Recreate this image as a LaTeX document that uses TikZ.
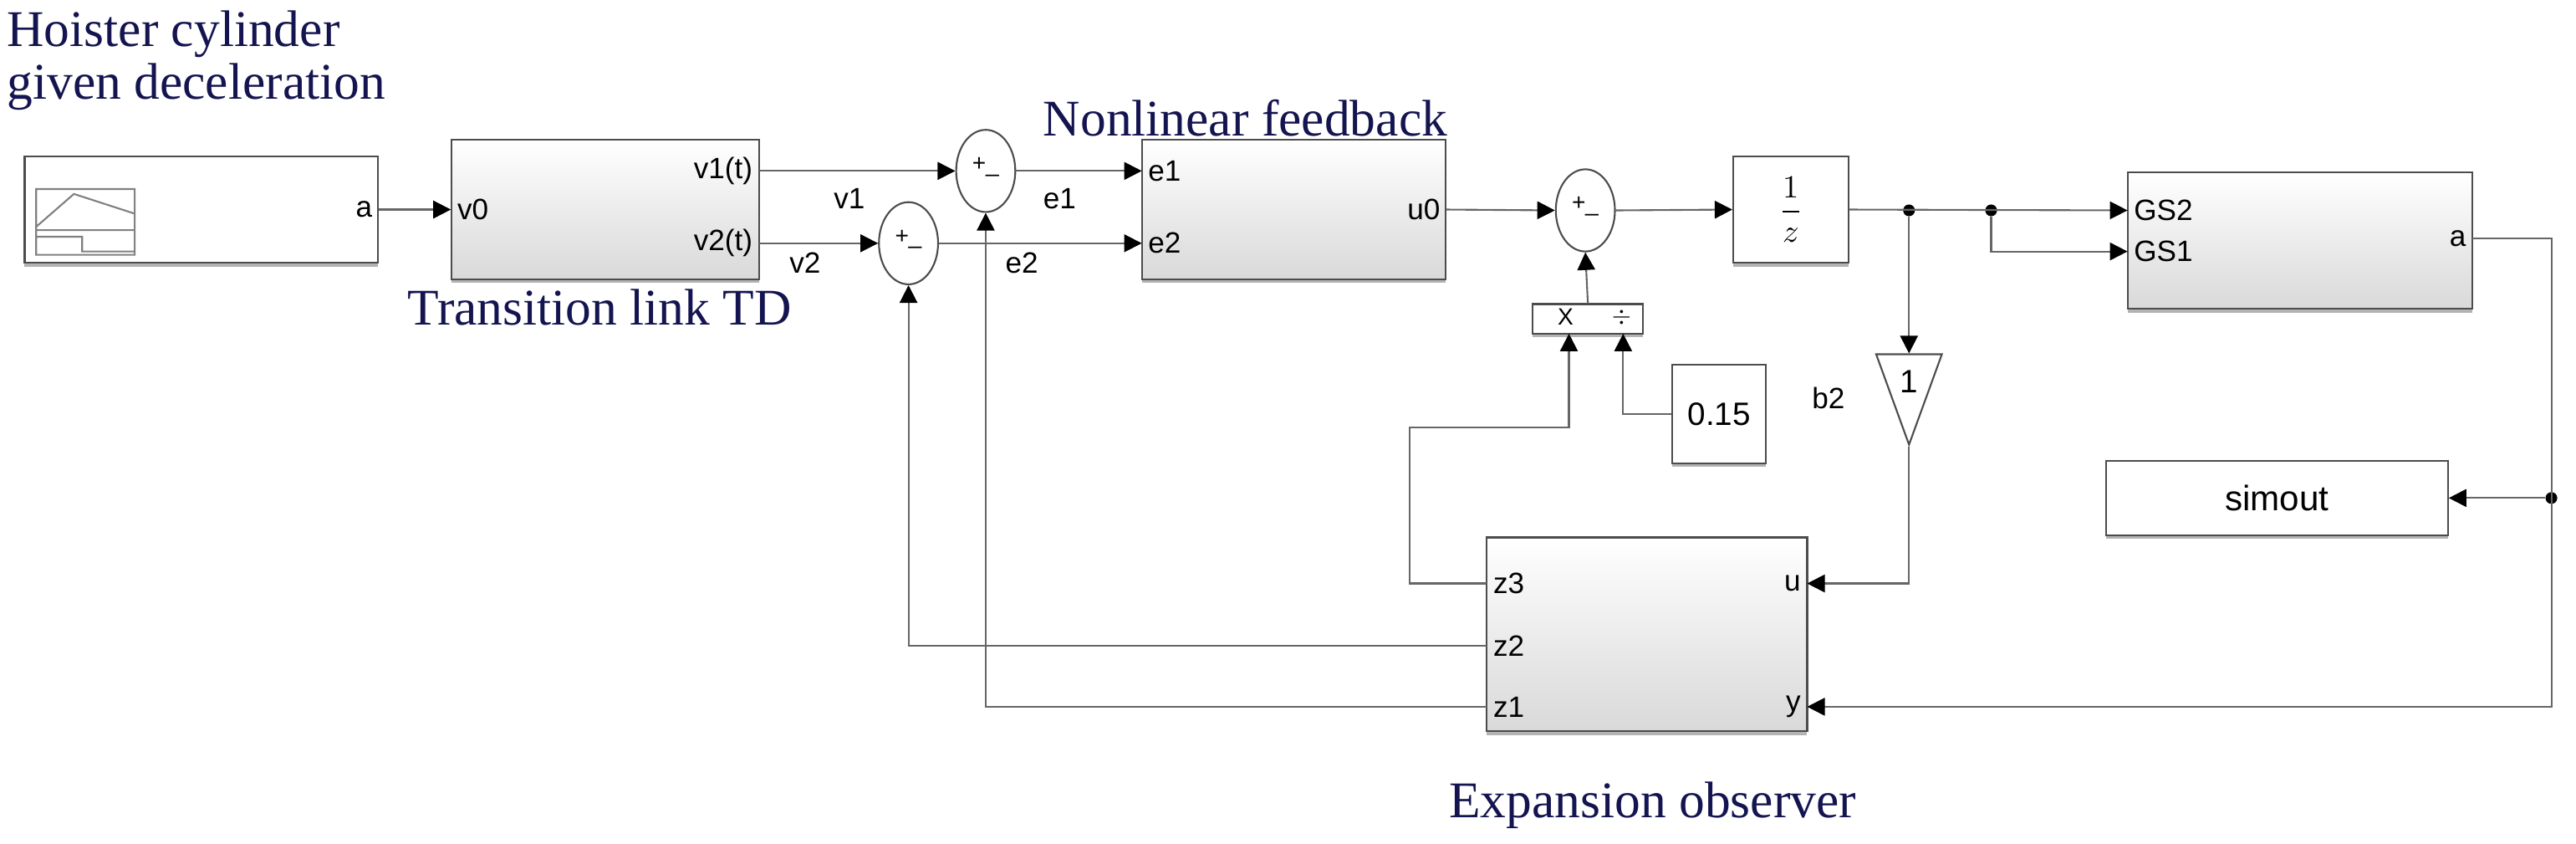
\documentclass[tikz,border=0pt]{standalone}
\usepackage{fontspec}
\setmainfont{Liberation Serif}
\newfontfamily\lab{Liberation Sans}
\usetikzlibrary{arrows.meta,shapes.geometric,shadows}
\def\u{0.01965cm}
\definecolor{navy}{RGB}{20,20,80}
\tikzset{
 blk/.style={draw=black!70,line width=0.6pt,top color=white,bottom color=black!15,inner sep=0pt,drop shadow={shadow xshift=0pt,shadow yshift=-1.2pt,opacity=0.6}},
 wblk/.style={draw=black!70,line width=0.6pt,fill=white,inner sep=0pt,drop shadow={shadow xshift=0pt,shadow yshift=-1.2pt,opacity=0.6}},
 sum/.style={ellipse,draw=black!70,line width=0.6pt,fill=white,minimum width=36*\u,minimum height=50*\u,inner sep=0pt},
 port/.style={font=\lab\fontsize{10}{11}\selectfont,inner sep=2pt},
 wl/.style={font=\lab\fontsize{10}{11}\selectfont,inner sep=1pt},
 title/.style={font=\fontsize{17.5}{19}\selectfont,text=navy,align=left,inner sep=0pt},
 sig/.style={draw=black!60,line width=0.6pt,-{Triangle[length=6pt,width=6pt,color=black]}},
 dot/.style={circle,fill=black,inner sep=0pt,minimum size=4pt}
}
\begin{document}
\begin{tikzpicture}[x=\u,y=-\u]
\useasboundingbox (0,0) rectangle (1568,513);
% titles
\node[title,anchor=north west] (t1) at (4,6) {Hoister cylinder\\[-1pt]given deceleration};
\node[title] (t2) at (365,187) {Transition link TD};
\node[title] (t3) at (758,72) {Nonlinear feedback};
\node[title] (t4) at (1006,490) {Expansion observer};
% blocks
\node[wblk,minimum width=215*\u,minimum height=65*\u] (sb) at (122.5,127.5) {};
\draw[black!50,line width=0.6pt] (22,115) rectangle (82,155) (22,140)--(82,140) (22,138)--(45,118)--(82,130) (22,144)--(50,144)--(50,153)--(82,153);
\node[port,anchor=east] (sba) at (sb.east) {a};
\node[blk,minimum width=187*\u,minimum height=85*\u] (td) at (368.5,127.5) {};
\node[port,anchor=west] at (td.west) {v0};
\coordinate (tdv1) at (462,104); \coordinate (tdv2) at (462,148);
\node[port,anchor=east] at (tdv1) {v1(t)};
\node[port,anchor=east] at (tdv2) {v2(t)};
\node[sum] (s1) at (600,104) {}; \node[font=\lab\footnotesize] at (596,100) {+}; \node[font=\lab\footnotesize] at (604,106) {\_};
\node[sum] (s2) at (553,148) {}; \node[font=\lab\footnotesize] at (549,144) {+}; \node[font=\lab\footnotesize] at (557,150) {\_};
\node[blk,minimum width=185*\u,minimum height=85*\u] (nf) at (787.5,127.5) {};
\coordinate (nfe1) at (695,104); \coordinate (nfe2) at (695,148);
\node[port,anchor=west] at (nfe1) {e1};
\node[port,anchor=west] at (nfe2) {e2};
\node[port,anchor=east] at (nf.east) {u0};
\node[sum] (s3) at (965,128) {}; \node[font=\lab\footnotesize] at (961,124) {+}; \node[font=\lab\footnotesize] at (969,130) {\_};
\node[wblk,minimum width=67*\u,minimum height=18*\u] (pr) at (966.5,194) {};
\node[font=\lab\footnotesize] at (953,193) {X}; \node[font=\lab\footnotesize] at (987,193) {$\div$};
\coordinate (prx) at (955,203); \coordinate (prd) at (988,203);
\node[wblk,minimum width=57*\u,minimum height=60*\u,font=\lab\fontsize{11}{12}\selectfont] (c) at (1046.5,252) {0.15};
\node[wblk,minimum width=70*\u,minimum height=65*\u,font=\lab\fontsize{11}{12}\selectfont] (z) at (1090,127.5) {$\displaystyle\frac{1}{z}$};
\node[isosceles triangle,shape border rotate=-90,isosceles triangle stretches,draw=black!70,line width=0.6pt,fill=white,inner sep=0pt,minimum height=55*\u,minimum width=40*\u,anchor=north] (g) at (1162,215) {};
\node[font=\lab\fontsize{11}{12}\selectfont] at (1162,232) {1};
\node[wl] at (1113,242) {b2};
\node[blk,minimum width=210*\u,minimum height=83*\u] (pl) at (1400,146.5) {};
\coordinate (gs2) at (1295,128); \coordinate (gs1) at (1295,153); \coordinate (pla) at (1505,145);
\node[port,anchor=west] at (gs2) {GS2};
\node[port,anchor=west] at (gs1) {GS1};
\node[port,anchor=east] at (pla) {a};
\node[wblk,minimum width=208*\u,minimum height=45*\u,font=\lab\fontsize{12}{13}\selectfont] (so) at (1386,303) {simout};
\node[blk,minimum width=195*\u,minimum height=118*\u] (ob) at (1002.5,386) {};
\coordinate (z3) at (905,355); \coordinate (z2) at (905,393); \coordinate (z1) at (905,430);
\coordinate (ou) at (1100,355); \coordinate (oy) at (1100,430);
\node[port,anchor=west] at (z3) {z3};
\node[port,anchor=west] at (z2) {z2};
\node[port,anchor=west] at (z1) {z1};
\node[port,anchor=east] at (ou) {u};
\node[port,anchor=east] at (oy) {y};
% wires
\draw[sig] (sba.east) -- (td.west);
\draw[sig] (tdv1) -- (s1.west);
\draw[sig] (tdv2) -- (s2.west);
\node[wl] at (517,121) {v1}; \node[wl] at (490,160) {v2};
\draw[sig] (s1.east) -- (nfe1);
\draw[sig] (s2.east) -- (nfe2);
\node[wl] at (645,121) {e1}; \node[wl] at (622,160) {e2};
\draw[sig] (z1) -| (s1.south);
\draw[sig] (z2) -| (s2.south);
\draw[sig] (nf.east) -- (s3.west);
\draw[sig] (pr.north) -- (s3.south);
\draw[sig] (s3.east) -- (z.west);
\draw[sig] (c.west) -| (prd);
\draw[sig] (z3) -- (858,355) |- (955,260) -- (prx);
\node[dot] (j1) at (1162,128) {};
\node[dot] (j2) at (1212,128) {};
\draw[sig] (z.east) -- (gs2);
\draw[sig] (j2) |- (gs1);
\draw[sig] (j1) -- (g.north);
\draw[sig] (g.apex) |- (ou);
\node[dot] (j3) at (1553,303) {};
\draw[sig] (pla) -- (1553,145) |- (oy);
\draw[sig] (j3) -- (so.east);
\end{tikzpicture}
\end{document}
